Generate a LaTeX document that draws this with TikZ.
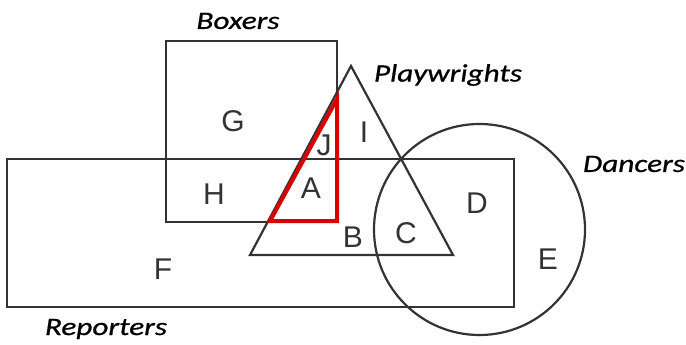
\documentclass[tikz,border=0pt]{standalone}
\usepackage{fontspec}
\setmainfont{Liberation Sans}
\newfontfamily\labelfont[FakeStretch=1.25,FakeBold=0.8]{Carlito}
\begin{document}
\begin{tikzpicture}[x=1pt,y=-1pt,
  shape line/.style={draw=black!80, line width=2.2pt},
  red line/.style={draw=red!85!black, line width=4pt, line join=miter},
  region/.style={font=\fontsize{30}{30}\selectfont, text=black!80, inner sep=0pt},
  setname/.style={font=\labelfont\itshape\fontsize{25}{25}\selectfont, inner sep=0pt}]
\useasboundingbox (0,0) rectangle (686,345);
% sets
\draw[shape line] (166,41) rectangle (337,222);
\draw[shape line] (7,159) rectangle (514,307);
\draw[shape line] (351,66) -- (453,255) -- (250,255) -- cycle;
\draw[shape line] (479.5,229.5) circle[radius=105.5];
% highlighted region
\draw[red line] (337,99) -- (337,221) -- (270,221) -- cycle;
% set names
\node[setname] (boxers) at (238,21) {Boxers};
\node[setname] (playwrights) at (448,75) {Playwrights};
\node[setname] (dancers) at (634,164) {Dancers};
\node[setname] (reporters) at (106,329) {Reporters};
% region letters
\node[region] (G) at (233,121) {G};
\node[region] (J) at (324,145) {J};
\node[region] (I) at (364,132) {I};
\node[region] (H) at (214,194) {H};
\node[region] (A) at (311,188) {A};
\node[region] (B) at (353,237) {B};
\node[region] (C) at (406,233) {C};
\node[region] (D) at (477,203) {D};
\node[region] (E) at (548,259) {E};
\node[region] (F) at (163,269) {F};
\end{tikzpicture}
\end{document}
